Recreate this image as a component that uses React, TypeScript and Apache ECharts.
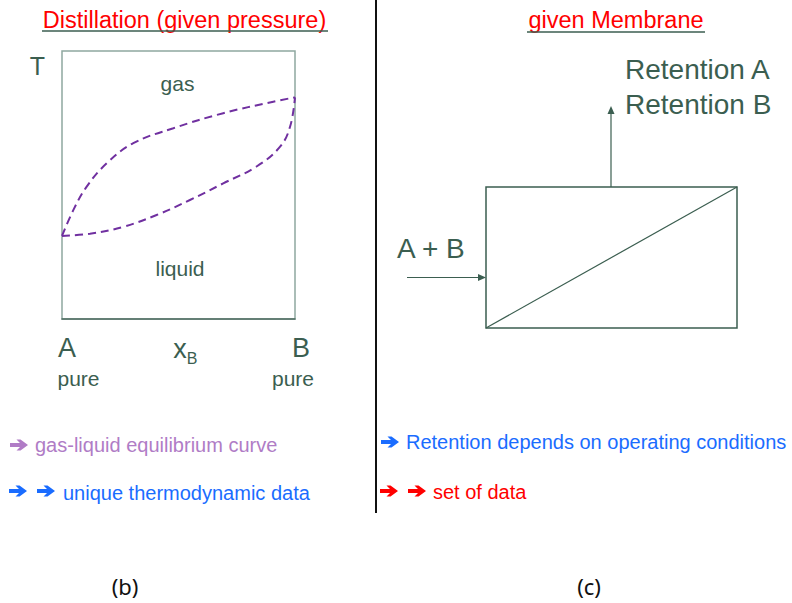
import React, { useEffect, useRef } from "react";
import * as echarts from "echarts";

// Composition of B (x_B) and temperature (relative scale 0..100)
const dewX = [0, 0.049, 0.106, 0.192, 0.306, 0.478, 0.692, 0.907, 1.0];
const dewT = [31, 40.7, 49.4, 58.1, 65.6, 71.2, 76.8, 81.1, 82.7];
const bubbleX = [0, 0.12, 0.263, 0.406, 0.549, 0.692, 0.835, 0.936, 0.979, 1.0];
const bubbleT = [31, 31.8, 34.4, 38.8, 44.4, 50.6, 56.9, 64.3, 71.8, 82.7];

const leftTitle = "Distillation (given pressure)";
const rightTitle = "given Membrane";
const leftNotes = ["gas-liquid equilibrium curve", "unique thermodynamic data"];
const rightNotes = ["Retention depends on operating conditions", "set of data"];
const retentionLabels = ["Retention A", "Retention B"];
const panelLabels = ["(b)", "(c)"];

const GREEN = "#3b5e50";
const PURPLE_NOTE = "#b07cc6";
const BLUE = "#1a6cff";
const RED = "#ff0000";
const FONT = "Liberation Sans, Arial, sans-serif";

export default function App() {
  const ref = useRef<HTMLDivElement>(null);
  useEffect(() => {
    if (!ref.current) return;
    const chart = echarts.init(ref.current, null, { renderer: "svg" });
    const txt = (x: number, y: number, text: string, size: number, color: string, align = "left", family = FONT) => ({
      type: "text",
      x,
      y,
      style: { text, fontSize: size, fill: color, fontFamily: family, align, verticalAlign: "middle" },
    });
    const ln = (x1: number, y1: number, x2: number, y2: number, color: string, w: number) => ({
      type: "line",
      shape: { x1, y1, x2, y2 },
      style: { stroke: color, lineWidth: w },
    });
    // bold right-pointing arrow glyph, 18 x 11
    const bullet = (x0: number, yc: number, color: string) => ({
      type: "polygon",
      x: x0,
      y: yc,
      shape: {
        points: [
          [0, -2],
          [10, -2],
          [6.5, -5.5],
          [10.5, -5.5],
          [18, 0],
          [10.5, 5.5],
          [6.5, 5.5],
          [10, 2],
          [0, 2],
        ],
      },
      style: { fill: color },
    });
    const graphics: any[] = [
      // titles
      txt(184.5, 20, leftTitle, 23.5, RED, "center"),
      ln(42, 31, 328, 31, GREEN, 1.5),
      txt(616, 20, rightTitle, 23.5, RED, "center"),
      ln(527, 32, 705, 32, GREEN, 1.5),
      // distillation labels
      txt(37.5, 66, "T", 25, GREEN, "center"),
      txt(177.5, 83, "gas", 21, GREEN, "center"),
      txt(180, 268, "liquid", 21, GREEN, "center"),
      txt(67, 348, "A", 27, GREEN, "center"),
      txt(78.5, 378, "pure", 21, GREEN, "center"),
      txt(180, 349, "x", 27, GREEN, "center"),
      txt(192, 358, "B", 16, GREEN, "center"),
      txt(301, 348, "B", 27, GREEN, "center"),
      txt(293, 378, "pure", 21, GREEN, "center"),
      // left notes
      bullet(10, 445, PURPLE_NOTE),
      txt(35, 445, leftNotes[0], 20, PURPLE_NOTE),
      bullet(9, 491, BLUE),
      bullet(37, 491, BLUE),
      txt(63, 493, leftNotes[1], 20, BLUE),
      // separator
      ln(376, 0, 376, 513, "#111111", 2),
      // membrane
      {
        type: "rect",
        shape: { x: 486, y: 187, width: 251, height: 141 },
        style: { fill: "none", stroke: GREEN, lineWidth: 1.5 },
      },
      ln(486, 328, 737, 187, GREEN, 1.2),
      ln(611, 187, 611, 112, GREEN, 1.2),
      { type: "polygon", shape: { points: [[611, 106], [607.5, 114], [614.5, 114]] }, style: { fill: GREEN } },
      ln(407, 277.5, 481, 277.5, GREEN, 1.2),
      { type: "polygon", shape: { points: [[486, 277.5], [478, 274], [478, 281]] }, style: { fill: GREEN } },
      txt(625, 69, retentionLabels[0], 28, GREEN),
      txt(625, 104, retentionLabels[1], 28, GREEN),
      txt(397, 248, "A + B", 28, GREEN),
      // right notes
      bullet(381, 442, BLUE),
      txt(406, 442, rightNotes[0], 20, BLUE),
      bullet(380, 491, RED),
      bullet(408, 491, RED),
      txt(433, 492, rightNotes[1], 20, RED),
      // panel labels
      txt(125, 586, panelLabels[0], 22, "#111111", "center", "Noto Sans"),
      txt(589, 586, panelLabels[1], 22, "#111111", "center", "Noto Sans"),
    ];
    chart.setOption({
      animation: false,
      backgroundColor: "#ffffff",
      grid: {
        left: 62,
        top: 51,
        width: 233,
        height: 268,
        show: true,
        borderColor: "#8fa8a0",
        borderWidth: 1.5,
        backgroundColor: "transparent",
      },
      xAxis: {
        type: "value",
        min: 0,
        max: 1,
        axisLine: { show: true, lineStyle: { color: "#4d6b60", width: 1.5 } },
        axisTick: { show: false },
        axisLabel: { show: false },
        splitLine: { show: false },
      },
      yAxis: {
        type: "value",
        min: 0,
        max: 100,
        axisLine: { show: false },
        axisTick: { show: false },
        axisLabel: { show: false },
        splitLine: { show: false },
      },
      series: [
        {
          type: "line",
          name: "dew",
          data: dewX.map((x, i) => [x, dewT[i]]),
          smooth: 0.4,
          symbol: "none",
          lineStyle: { color: "#7030a0", width: 2, type: [8, 5] },
        },
        {
          type: "line",
          name: "bubble",
          data: bubbleX.map((x, i) => [x, bubbleT[i]]),
          smooth: 0.4,
          symbol: "none",
          lineStyle: { color: "#7030a0", width: 2, type: [8, 5] },
        },
      ],
      graphic: graphics,
    });
    return () => chart.dispose();
  }, []);
  return (
    <div
      ref={ref}
      style={{ position: "absolute", left: 0, top: 0, width: 792, height: 603, background: "#fff" }}
    />
  );
}
